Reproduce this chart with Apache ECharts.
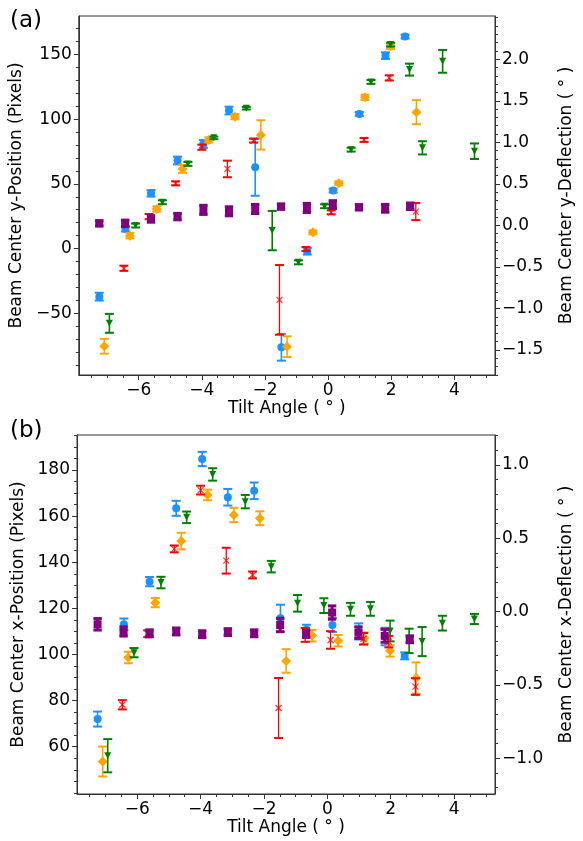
<!DOCTYPE html>
<html><head><meta charset="utf-8">
<script src="https://cdn.jsdelivr.net/npm/echarts@6/dist/echarts.min.js"></script>
<style>html,body{margin:0;padding:0;background:#fff}#c{width:583px;height:841px}</style>
</head><body><div id="c"></div>
<script>
// ---- tick labels ----
const xTicks = [-6, -4, -2, 0, 2, 4];
const xMinorTicks = [-7.5,-7,-6.5,-5.5,-5,-4.5,-3.5,-3,-2.5,-1.5,-1,-0.5,0.5,1,1.5,2.5,3,3.5,4.5,5];
const yTopTicks = [-50, 0, 50, 100, 150];
const yTopMinor = [-90,-80,-70,-60,-40,-30,-20,-10,10,20,30,40,60,70,80,90,110,120,130,140,160,170];
const yTopRightTicks = [-1.5, -1.0, -0.5, 0.0, 0.5, 1.0, 1.5, 2.0];
const yTopRightMinor = [-1.8,-1.7,-1.6,-1.4,-1.3,-1.2,-1.1,-0.9,-0.8,-0.7,-0.6,-0.4,-0.3,-0.2,-0.1,0.1,0.2,0.3,0.4,0.6,0.7,0.8,0.9,1.1,1.2,1.3,1.4,1.6,1.7,1.8,1.9,2.1,2.2,2.3,2.4,2.5];
const yBotTicks = [60, 80, 100, 120, 140, 160, 180];
const yBotMinor = [40,45,50,55,65,70,75,85,90,95,105,110,115,125,130,135,145,150,155,165,170,175,185,190,195];
const yBotRightTicks = [-1.0, -0.5, 0.0, 0.5, 1.0];
const yBotRightMinor = [-1.2,-1.1,-0.9,-0.8,-0.7,-0.6,-0.4,-0.3,-0.2,-0.1,0.1,0.2,0.3,0.4,0.6,0.7,0.8,0.9,1.1,1.2];

// ---- tilt angles per series ----
const xBlue   = [-7.25, -6.42, -5.61, -4.77, -3.95, -3.14, -2.31, -1.48, -0.66, 0.16, 0.99, 1.82, 2.44];
const xOrange = [-7.09, -6.28, -5.43, -4.61, -3.78, -2.95, -2.13, -1.30, -0.48, 0.34, 1.17, 1.98, 2.80];
const xGreen  = [-6.93, -6.10, -5.25, -4.44, -3.62, -2.59, -1.77, -0.94, -0.11, 0.73, 1.36, 1.98, 2.58, 2.99, 3.63, 4.64];
const xRed    = [-6.47, -5.67, -4.83, -4.00, -3.19, -2.36, -1.54, -0.70, 0.10, 1.14, 1.94, 2.78];
const xPurple = [-7.25, -6.43, -5.61, -4.77, -3.95, -3.14, -2.31, -1.49, -0.67, 0.15, 0.98, 1.81, 2.60];

// ---- (a) y-position (pixels) and errors ----
const blueTopY   = [-37.1, 15.2, 42.7, 68.0, 80.8, 106.6, 62.8, -76.2, -2.1, 44.8, 104.0, 149.0, 163.7];
const blueTopE   = [3, 2, 2.5, 3, 3, 3, 22, 10.3, 2.5, 1.5, 1.5, 2.5, 1.5];
const orangeTopY = [-75.4, 10.0, 30.6, 61.5, 83.9, 101.9, 87.8, -75.7, 12.6, 50.4, 116.8, 156.2, 105.3];
const orangeTopE = [5.7, 2, 2, 3, 2, 2, 11.3, 8, 1.5, 1.5, 2, 2, 9.3];
const greenTopY  = [-57.7, 17.8, 35.8, 65.4, 85.5, 108.4, 13.9, -10.6, 32.7, 76.4, 128.7, 157.5, 138.2, 77.8, 144.6, 75.2];
const greenTopE  = [7.3, 1.5, 1.5, 1.5, 1, 1, 15.2, 1.5, 1.5, 1.5, 1.5, 1.5, 4.6, 5.1, 8.8, 6];
const redTopY    = [-15.2, 24.7, 50.4, 78.3, 61.5, 83.4, -39.6, -0.3, 28.0, 83.9, 131.8, 28.6];
const redTopE    = [2, 2, 1.5, 2, 6.4, 1.5, 26.9, 1.5, 1.5, 1.5, 2, 6.6];
const purpleTopY = [19.5, 19.5, 22.9, 24.7, 29.9, 28.8, 30.6, 32.4, 31.4, 34.0, 31.9, 31.1, 32.7];
const purpleTopE = [2, 2.5, 2.5, 2.5, 3.5, 3.5, 3.5, 2, 3.5, 3, 2, 3, 2.5];

// ---- (b) x-position (pixels) and errors ----
const blueBotY   = [72.0, 113.1, 131.6, 163.4, 184.8, 168.2, 171.0, 115.7, 110.7, 112.8, 110.0, 107.8, 99.4];
const blueBotE   = [3.25, 2.5, 2, 3.25, 3.1, 3.6, 3.6, 5.9, 2.2, 3, 3.5, 3.8, 1.5];
const orangeBotY = [53.6, 98.7, 122.5, 149.2, 169.2, 160.5, 159.1, 97.2, 108.2, 106.0, 107.1, 101.6, 89.8];
const orangeBotE = [6.5, 2.5, 2, 3.6, 2.3, 3.1, 3, 5.1, 2.5, 2.5, 2.5, 2.5, 6.8];
const greenBotY  = [56.1, 100.8, 131.2, 159.5, 178.1, 166.3, 138.1, 122.2, 121.2, 119.6, 119.8, 110.2, 105.9, 105.6, 113.6, 115.4];
const greenBotE  = [7.2, 2, 2.5, 2.5, 2.7, 2.9, 2.5, 3.6, 3.2, 2.8, 3, 4.5, 5.3, 6.3, 3.2, 2.2];
const redBotY    = [78.2, 109.0, 145.8, 171.3, 140.7, 134.5, 76.8, 108.5, 106.3, 106.8, 105.6, 86.1];
const redBotE    = [2, 1.5, 1.5, 1.9, 5.6, 1.5, 13, 3, 3.8, 2.5, 2.5, 3.6];
const purpleBotY = [113.1, 110.0, 109.2, 110.0, 108.8, 109.7, 109.2, 112.8, 108.9, 118.2, 109.5, 108.1, 106.6];
const purpleBotE = [2.5, 2, 1.5, 1.5, 1.5, 1.5, 1.5, 2.9, 1.5, 2.9, 2.5, 2.8, 1.5];

const FONT = 'DejaVu Sans';
const AX = '#333';
const minus = v => (v < 0 ? '\u2212' + Math.abs(v) : '' + v);
const minus1 = v => (v < 0 ? '\u2212' : '') + Math.abs(v).toFixed(1);

function xAxes(grid) {
  return [
    { type: 'value', gridIndex: grid, min: -7.9, max: 5.29, position: 'bottom',
      axisLine: { show: true, onZero: false, lineStyle: { color: AX, width: 1 } },
      axisTick: { show: true, length: 5, customValues: xTicks, lineStyle: { color: AX } },
      axisLabel: { customValues: xTicks, formatter: minus, fontSize: 17, fontFamily: FONT, color: '#000', margin: 7 },
      splitLine: { show: false },
      name: 'Tilt Angle ( \u00b0 )', nameLocation: 'middle', nameGap: 25,
      nameTextStyle: { fontSize: 17, fontFamily: FONT, color: '#000' } },
    { type: 'value', gridIndex: grid, min: -7.9, max: 5.29, position: 'bottom',
      axisLine: { show: false, onZero: false },
      axisTick: { show: true, length: 3, customValues: xMinorTicks, lineStyle: { color: AX } },
      axisLabel: { show: false }, splitLine: { show: false } }
  ];
}
function yAxes(grid, min, max, ticks, minor, fmt, pos, name, gap) {
  return [
    { type: 'value', gridIndex: grid, min: min, max: max, position: pos,
      axisLine: { show: true, onZero: false, lineStyle: { color: AX } },
      axisTick: { show: true, length: 5, customValues: ticks, lineStyle: { color: AX } },
      axisLabel: { customValues: ticks, formatter: fmt, fontSize: 17, fontFamily: FONT, color: '#000', margin: 7 },
      splitLine: { show: false },
      name: name, nameLocation: 'middle', nameRotate: 90, nameGap: gap,
      nameTextStyle: { fontSize: 17, fontFamily: FONT, color: '#000' } },
    { type: 'value', gridIndex: grid, min: min, max: max, position: pos,
      axisLine: { show: false, onZero: false },
      axisTick: { show: true, length: 3, customValues: minor, lineStyle: { color: AX } },
      axisLabel: { show: false }, splitLine: { show: false } }
  ];
}

function errRender(color, lw, capW, capLw) {
  return function (params, api) {
    const x = api.value(0), y = api.value(1), e = api.value(2);
    const t = api.coord([x, y + e]);
    const b = api.coord([x, y - e]);
    return { type: 'group', children: [
      { type: 'line', shape: { x1: t[0], y1: t[1], x2: b[0], y2: b[1] }, style: { stroke: color, lineWidth: lw } },
      { type: 'line', shape: { x1: t[0] - capW, y1: t[1], x2: t[0] + capW, y2: t[1] }, style: { stroke: color, lineWidth: capLw } },
      { type: 'line', shape: { x1: b[0] - capW, y1: b[1], x2: b[0] + capW, y2: b[1] }, style: { stroke: color, lineWidth: capLw } }
    ] };
  };
}

const styles = [
  { color: '#1e90ff', symbol: 'circle', size: 8, rot: 0, lw: 1.6, cap: 4.5, capLw: 2 },
  { color: '#ffa500', symbol: 'diamond', size: 10, rot: 0, lw: 1.6, cap: 4.5, capLw: 2 },
  { color: '#008000', symbol: 'triangle', size: 7, rot: 180, lw: 1.6, cap: 4.5, capLw: 2 },
  { color: '#ff0000', symbol: 'path://M0,0L10,10M10,0L0,10', size: 6, rot: 0, lw: 1.3, cap: 4.5, capLw: 2, hollow: true },
  { color: '#800080', symbol: 'rect', size: 8, rot: 0, lw: 3, cap: 4.2, capLw: 3 }
];

function zip(xs, ys, es) { return xs.map((x, i) => [x, ys[i], es[i]]); }

const panelData = [
  [zip(xBlue, blueTopY, blueTopE), zip(xOrange, orangeTopY, orangeTopE), zip(xGreen, greenTopY, greenTopE), zip(xRed, redTopY, redTopE), zip(xPurple, purpleTopY, purpleTopE)],
  [zip(xBlue, blueBotY, blueBotE), zip(xOrange, orangeBotY, orangeBotE), zip(xGreen, greenBotY, greenBotE), zip(xRed, redBotY, redBotE), zip(xPurple, purpleBotY, purpleBotE)]
];

const series = [];
panelData.forEach((sets, p) => {
  sets.forEach((d, i) => {
    const s = styles[i];
    series.push({ type: 'custom', xAxisIndex: p * 2, yAxisIndex: p * 4, data: d,
      encode: { x: 0, y: 1 }, renderItem: errRender(s.color, s.lw, s.cap, s.capLw), silent: true, z: 2 + i });
    series.push({ type: 'scatter', xAxisIndex: p * 2, yAxisIndex: p * 4, data: d.map(v => [v[0], v[1]]),
      symbol: s.symbol, symbolSize: s.size, symbolRotate: s.rot, silent: true, z: 2 + i,
      itemStyle: s.hollow ? { color: 'transparent', borderColor: s.color, borderWidth: 1.2 } : { color: s.color, opacity: 1 } });
  });
});

const option = {
  animation: false,
  backgroundColor: '#fff',
  grid: [
    { left: 77, top: 16, width: 424, height: 359, show: true, borderColor: AX, borderWidth: 1, backgroundColor: 'transparent' },
    { left: 77, top: 435, width: 424, height: 359, show: true, borderColor: AX, borderWidth: 1, backgroundColor: 'transparent' }
  ],
  xAxis: [...xAxes(0), ...xAxes(1)],
  yAxis: [
    ...yAxes(0, -97.6, 179.6, yTopTicks, yTopMinor, minus, 'left', 'Beam Center y-Position (Pixels)', 43),
    ...yAxes(0, -1.801, 2.521, yTopRightTicks, yTopRightMinor, minus1, 'right', 'Beam Center y-Deflection ( \u00b0 )', 63),
    ...yAxes(1, 39.5, 195.2, yBotTicks, yBotMinor, minus, 'left', 'Beam Center x-Position (Pixels)', 43),
    ...yAxes(1, -1.245, 1.205, yBotRightTicks, yBotRightMinor, minus1, 'right', 'Beam Center x-Deflection ( \u00b0 )', 63)
  ],
  graphic: [
    { type: 'text', left: 10, top: 10, style: { text: '(a)', font: '23px "DejaVu Sans"', fill: '#000' } },
    { type: 'text', left: 10, top: 420, style: { text: '(b)', font: '23px "DejaVu Sans"', fill: '#000' } }
  ],
  series: series
};

const chart = echarts.init(document.getElementById('c'), null, { renderer: 'canvas' });
chart.setOption(option);
</script>
</body></html>
